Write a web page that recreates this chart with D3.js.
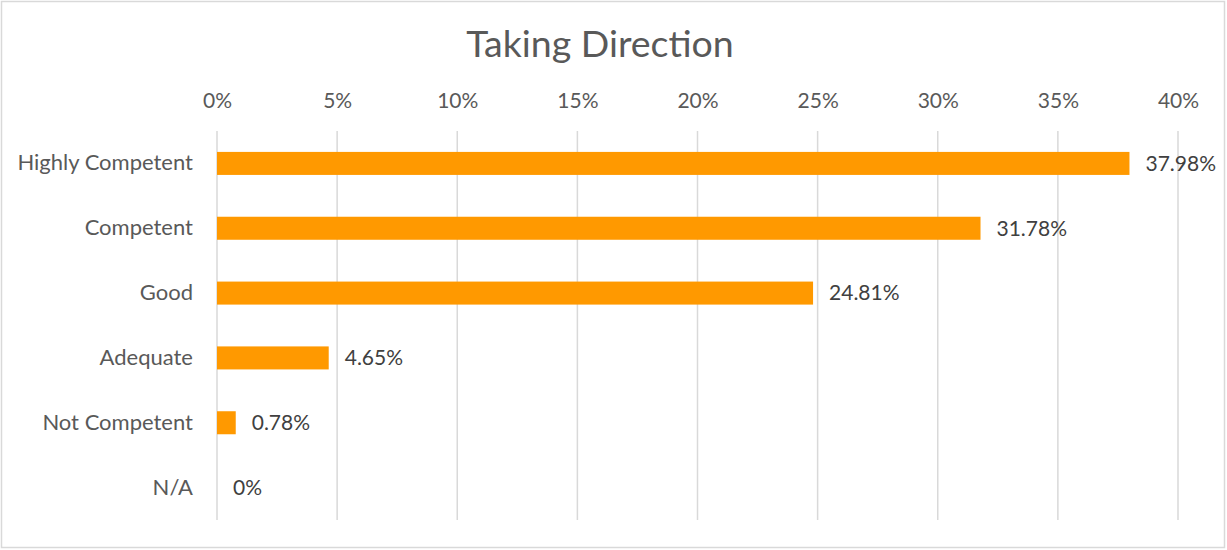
<!DOCTYPE html>
<html>
<head>
<meta charset="utf-8">
<script src="https://cdn.jsdelivr.net/npm/d3@7"></script>
<style>
  body { margin: 0; background: #fff; }
  svg { font-family: Lato, "Open Sans", sans-serif; }
</style>
</head>
<body>
<svg width="1227" height="550"></svg>
<script>
var categories = ["Highly Competent", "Competent", "Good", "Adequate", "Not Competent", "N/A"];
var values = [37.98, 31.78, 24.81, 4.65, 0.78, 0];
var valueLabels = ["37.98%", "31.78%", "24.81%", "4.65%", "0.78%", "0%"];
var ticks = [0, 5, 10, 15, 20, 25, 30, 35, 40];

var svg = d3.select("svg");

svg.append("rect")
  .attr("x", 1.5).attr("y", 1.5)
  .attr("width", 1223).attr("height", 546)
  .attr("fill", "#fff")
  .attr("stroke", "#d9d9d9")
  .attr("stroke-width", 1.5);

svg.append("text")
  .attr("x", 600).attr("y", 57)
  .attr("text-anchor", "middle")
  .attr("fill", "#595959")
  .style("font-size", "37.5px")
  .text("Taking Direction");

var xScale = d3.scaleLinear()
  .domain([0, 40])
  .range([217, 1178]);

var yScale = d3.scaleBand()
  .domain(categories)
  .range([131, 520])
  .paddingInner(0.645)
  .paddingOuter(0.3225);

// grid lines
svg.append("g")
  .selectAll("line")
  .data(ticks)
  .join("line")
  .attr("x1", function (d) { return xScale(d) })
  .attr("x2", function (d) { return xScale(d) })
  .attr("y1", 131)
  .attr("y2", 520)
  .attr("stroke", "#d9d9d9")
  .attr("stroke-width", 1.5);

var xAxis = d3.axisTop(xScale)
  .tickValues(ticks)
  .tickSize(0)
  .tickPadding(0)
  .tickFormat(function (d) { return d + "%" });

var xAxisG = svg.append("g")
  .attr("id", "xAxisG")
  .attr("transform", "translate(0,108)")
  .call(xAxis);
xAxisG.select(".domain").remove();
xAxisG.selectAll("text")
  .attr("fill", "#595959")
  .style("font-size", "21px")
  .style("font-family", "Lato, 'Open Sans', sans-serif");

var yAxis = d3.axisLeft(yScale)
  .tickSize(0)
  .tickPadding(24);

var yAxisG = svg.append("g")
  .attr("id", "yAxisG")
  .attr("transform", "translate(217,0)")
  .call(yAxis);
yAxisG.select(".domain").remove();
yAxisG.selectAll("text")
  .attr("fill", "#595959")
  .style("font-size", "22px")
  .style("font-family", "Lato, 'Open Sans', sans-serif");

svg.append("g")
  .selectAll("rect")
  .data(values)
  .join("rect")
  .attr("x", xScale(0))
  .attr("y", function (d, i) { return yScale(categories[i]) })
  .attr("width", function (d) { return xScale(d) - xScale(0) })
  .attr("height", yScale.bandwidth())
  .attr("fill", "#ff9900");

svg.append("g")
  .selectAll("text")
  .data(values)
  .join("text")
  .attr("x", function (d) { return xScale(d) + 16 })
  .attr("y", function (d, i) { return yScale(categories[i]) + yScale.bandwidth() / 2 })
  .attr("dy", "0.35em")
  .attr("fill", "#404040")
  .style("font-size", "21px")
  .text(function (d, i) { return valueLabels[i] });
</script>
</body>
</html>
